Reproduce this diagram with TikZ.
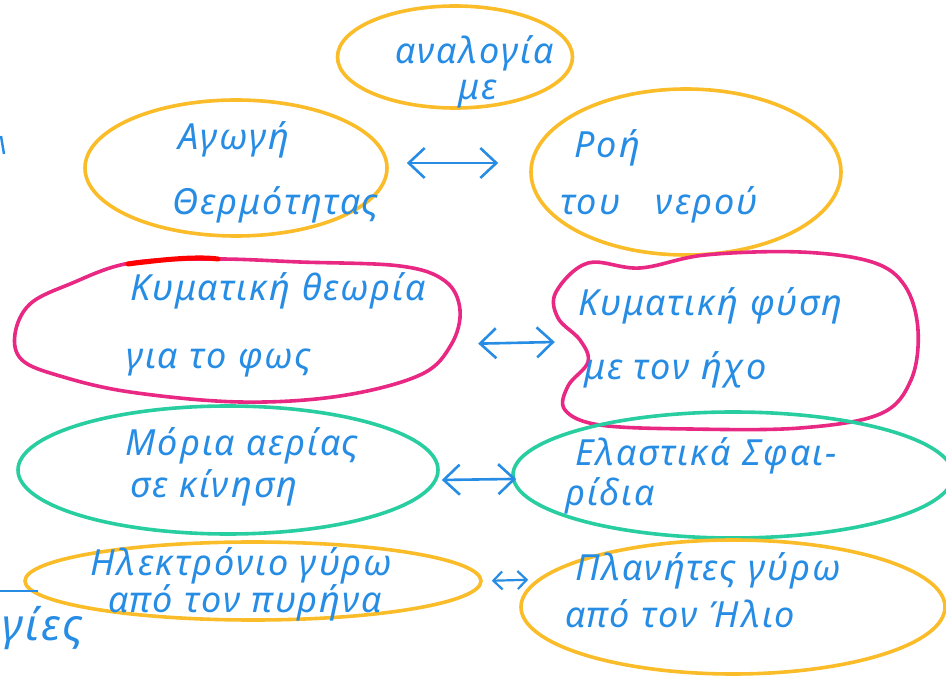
\documentclass[tikz,border=0pt]{standalone}
\usepackage{fontspec}
\setmainfont{Noto Sans}
\newfontfamily\handfont{Noto Sans}[LetterSpace=6]
\usetikzlibrary{shapes.geometric,arrows.meta}
\definecolor{ink}{RGB}{38,140,228}
\definecolor{marker}{RGB}{250,188,40}
\definecolor{rose}{RGB}{232,40,130}
\definecolor{sea}{RGB}{40,205,160}
\tikzset{
  barb/.tip={Straight Barb[length=16pt,width=30pt]},
  smallbarb/.tip={Straight Barb[length=9pt,width=18pt]}}
\begin{document}
\begin{tikzpicture}[x=1pt,y=-1pt,
  bubble/.style={ellipse,draw,line width=3.6pt,inner sep=0pt},
  sun/.style={bubble,draw=marker},
  gas/.style={bubble,draw=sea},
  frame/.style={ellipse,inner sep=0pt},
  outline/.style={line width=3.6pt,line join=round},
  words/.style={text=ink,font=\handfont\fontsize{36}{44}\selectfont\itshape,
    align=left,inner sep=0pt,anchor=base west},
  link/.style={draw=ink,line width=2.6pt,line cap=round,barb-barb}]
\useasboundingbox (0,0) rectangle (946,679);

% headline (text anchored at the baseline of its last line)
\node[sun,minimum width=235,minimum height=102] (head) at (455,57) {};
\node[words] (headT) at (395,100) {αναλογία\\[-8pt]\hspace*{63pt}με};

% first pair: heat and water
\node[sun,minimum width=302,minimum height=136] (heat) at (236,168) {};
\node[words] (heatT) at (172,215) {\hspace*{6pt}Αγωγή\\[21pt]Θερμότητας};
\node[sun,minimum width=310,minimum height=166] (water) at (686,172) {};
\node[words] (waterT) at (560,215) {\hspace*{14pt}Ροή\\[13pt]του\hspace*{36pt}νερού};
\draw[link,shorten <=18pt,shorten >=31pt]
  ([yshift=5pt]heat.east) -- ([yshift=9pt]water.west);

% second pair: light and sound
\node[frame,minimum width=448,minimum height=144] (light) at (238,329) {};
\draw[rose,outline] plot[smooth cycle,tension=0.6] coordinates {
  (130,263) (215,259) (300,262) (400,266) (445,281) (460,310) (451,345)
  (420,375) (340,396) (240,402) (130,392) (60,376) (22,360) (15,334)
  (30,304) (70,284)};
\draw[red,line width=5pt,line cap=round]
  (128,264) .. controls (160,260) and (195,256) .. (218,259);
\node[words] (lightT) at (126,368) {\hspace*{4pt}Κυματική θεωρία\\[24pt]για το φως};
\node[frame,minimum width=360,minimum height=176] (sound) at (735,340) {};
\draw[rose,outline] plot[smooth cycle,tension=0.6] coordinates {
  (556,292) (588,263) (640,268) (705,255) (800,252) (872,262) (905,286)
  (918,330) (911,380) (880,414) (800,428) (690,429) (600,425) (565,410)
  (568,386) (588,362) (580,340) (558,318)};
\node[words] (soundT) at (578,380) {Κυματική φύση\\[21pt]\hspace*{6pt}με τον ήχο};
\draw[link,shorten <=16pt,shorten >=0pt]
  ([yshift=-15pt]light.east) -- ([yshift=-2pt]sound.west);

% third pair: gas and spheres
\node[gas,minimum width=420,minimum height=128] (gasm) at (228,470) {};
\node[words] (gasT) at (125,497) {Μόρια αερίας\\[-2pt]\hspace*{5pt}σε κίνηση};
\node[gas,minimum width=440,minimum height=126] (balls) at (733,475) {};
\node[words] (ballsT) at (565,505) {\hspace*{10pt}Ελαστικά Σφαι-\\[-4pt]ρίδια};
\draw[link,shorten <=2pt,shorten >=-5pt]
  ([yshift=-10pt]gasm.east) -- ([yshift=-4pt]balls.west);

% fourth pair: atom and solar system
\node[sun,minimum width=456,minimum height=78] (atom) at (253,581) {};
\node[words] (atomT) at (90,612) {Ηλεκτρόνιο γύρω\\[-7pt]\hspace*{18pt}από τον πυρήνα};
\node[sun,minimum width=424,minimum height=134] (sky) at (733,607) {};
\node[words] (skyT) at (565,627) {\hspace*{10pt}Πλανήτες γύρω\\[3pt]από τον Ήλιο};
\draw[draw=ink,line width=2.2pt,line cap=round,smallbarb-smallbarb,
  shorten <=9pt,shorten >=-9pt] (atom.east) -- ([yshift=27pt]sky.west);

% stray strokes at the page edge
\coordinate (edgeA) at (0,591);
\coordinate (edgeB) at (38,591);
\draw[ink,line width=2.4pt] (edgeA) -- (edgeB);
\node[words,font=\handfont\fontsize{44}{50}\selectfont\itshape] (tail) at (2,640) {γίες};
\coordinate (markA) at (1,136);
\coordinate (markB) at (4,154);
\draw[ink,line width=2.4pt] (markA) -- (markB);
\end{tikzpicture}
\end{document}
